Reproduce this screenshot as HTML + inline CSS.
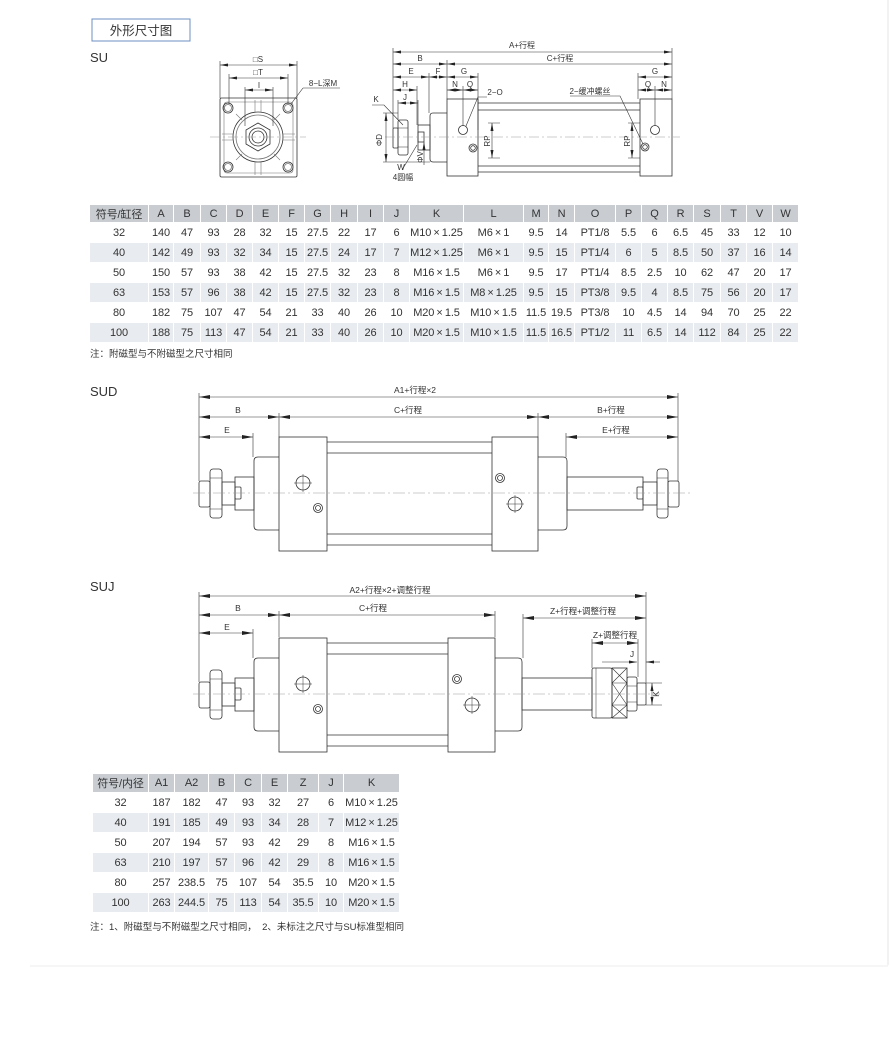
<!DOCTYPE html>
<html><head><meta charset="utf-8"><style>
body{margin:0;background:#fff;width:890px;height:1057px;position:relative;overflow:hidden;font-family:"Liberation Sans","Noto Sans CJK SC",sans-serif;color:#333}
svg{position:absolute;left:0;top:0}
table{position:absolute;border-collapse:collapse;table-layout:fixed;font-size:11px;color:#333;letter-spacing:-0.1px}
td{padding:0;text-align:center;border:1px solid #fff;white-space:nowrap;overflow:hidden}
tr.h td{background:#c9cdd2}
tr.g td{background:#e8ebef}
.note{position:absolute;font-size:9.5px;color:#333}
</style></head><body>
<svg width="890" height="1057" font-family="Liberation Sans, Noto Sans CJK SC, sans-serif">
<defs>
<marker id="a" viewBox="0 0 8 3" refX="8" refY="1.5" markerWidth="8" markerHeight="3" orient="auto-start-reverse" markerUnits="userSpaceOnUse"><path d="M0,0L8,1.5L0,3z" fill="#222"/></marker>
<marker id="b" viewBox="0 0 11 4" refX="11" refY="2" markerWidth="11" markerHeight="4" orient="auto-start-reverse" markerUnits="userSpaceOnUse"><path d="M0,0L11,2L0,4z" fill="#222"/></marker>
</defs>
<line x1="888" y1="0" x2="888" y2="965" stroke="#e6e6e6"/>
<line x1="30" y1="966" x2="888" y2="966" stroke="#eee"/>
<rect x="92" y="19" width="98" height="22" fill="none" stroke="#6d8fc4" stroke-width="1"/>
<text x="141" y="35" font-size="12.5" text-anchor="middle" fill="#333">外形尺寸图</text>
<text x="90" y="62" font-size="13" fill="#333">SU</text>
<text x="90" y="396" font-size="13" fill="#333">SUD</text>
<text x="90" y="591" font-size="13" fill="#333">SUJ</text>

<!-- SU front view -->
<g stroke="#333" fill="none" stroke-width="0.8">
<rect x="220" y="98" width="77" height="79" rx="1.5"/>
<rect x="224" y="102" width="69" height="71" rx="3" stroke="#777" stroke-width="0.6"/>
<circle cx="258" cy="137" r="25"/><circle cx="258" cy="137" r="22" stroke="#777"/>
<polygon points="258,123 270,130 270,144 258,151 246,144 246,130"/>
<circle cx="258" cy="137" r="9"/><circle cx="258" cy="137" r="6"/>
<circle cx="228" cy="108" r="5"/><circle cx="228" cy="108" r="3.5" stroke="#777"/>
<circle cx="288" cy="108" r="5"/><circle cx="288" cy="108" r="3.5" stroke="#777"/>
<circle cx="228" cy="167" r="5"/><circle cx="228" cy="167" r="3.5" stroke="#777"/>
<circle cx="288" cy="167" r="5"/><circle cx="288" cy="167" r="3.5" stroke="#777"/>
<path d="M236,114L242,120M280,114L274,120M236,160L242,154M280,160L274,154M255,100V112M261,100V112M255,162V175M261,162V175M222,134H233M222,140H233M283,134H295M283,140H295" stroke="#777" stroke-width="0.6"/>
</g>
<g stroke="#333" stroke-width="0.6" fill="none">
<line x1="220" y1="65" x2="297" y2="65" marker-start="url(#a)" marker-end="url(#a)"/>
<line x1="229" y1="78" x2="288" y2="78" marker-start="url(#a)" marker-end="url(#a)"/>
<line x1="245" y1="90" x2="273" y2="90" marker-start="url(#a)" marker-end="url(#a)"/>
<line x1="220" y1="61" x2="220" y2="98"/><line x1="297" y1="61" x2="297" y2="98"/>
<line x1="229" y1="74" x2="229" y2="104"/><line x1="288" y1="74" x2="288" y2="104"/>
<line x1="245" y1="87" x2="245" y2="126"/><line x1="273" y1="87" x2="273" y2="126"/>
<line x1="340" y1="88" x2="303" y2="88"/><line x1="303" y1="88" x2="291" y2="104"/>
</g>
<line x1="210" y1="137" x2="306" y2="137" stroke="#999" stroke-width="0.6" stroke-dasharray="10 3 2 3"/>
<g font-size="8" fill="#333" text-anchor="middle">
<text x="258" y="62">□S</text><text x="258" y="75">□T</text><text x="259" y="88">I</text>
<text x="323" y="86">8−L深M</text>
</g>

<!-- SU side view -->
<g stroke="#333" fill="none" stroke-width="0.8">
<rect x="447" y="99" width="31" height="77"/>
<rect x="640" y="99" width="32" height="77"/>
<path d="M478,103H640M478,110H640M478,166H640M478,172H640"/>
<path d="M447,113H433Q430,113 430,116V159Q430,162 433,162H447"/>
<rect x="418" y="125" width="12" height="25"/>
<rect x="418" y="132" width="6" height="10"/>
<rect x="398" y="120" width="10" height="35" rx="2"/>
<path d="M398,128H408M398,147H408" stroke-width="0.5"/>
<rect x="393" y="128" width="5" height="20" rx="1"/>
<circle cx="463" cy="130" r="4.5"/><circle cx="473" cy="148" r="4"/><circle cx="473" cy="148" r="2.3"/>
<circle cx="655" cy="130" r="4.5"/><circle cx="645" cy="147" r="4"/><circle cx="645" cy="147" r="2.3"/>
</g>
<line x1="385" y1="137" x2="680" y2="137" stroke="#999" stroke-width="0.6" stroke-dasharray="10 3 2 3"/>
<g stroke="#333" stroke-width="0.6" fill="none">
<line x1="393" y1="52" x2="672" y2="52" marker-start="url(#a)" marker-end="url(#a)"/>
<line x1="393" y1="64" x2="447" y2="64" marker-start="url(#a)" marker-end="url(#a)"/>
<line x1="447" y1="64" x2="672" y2="64" marker-start="url(#a)" marker-end="url(#a)"/>
<line x1="393" y1="77" x2="429" y2="77" marker-start="url(#a)" marker-end="url(#a)"/>
<line x1="429" y1="77" x2="447" y2="77" marker-start="url(#a)" marker-end="url(#a)"/>
<line x1="447" y1="77" x2="478" y2="77" marker-start="url(#a)" marker-end="url(#a)"/>
<line x1="638" y1="77" x2="672" y2="77" marker-start="url(#a)" marker-end="url(#a)"/>
<line x1="393" y1="90" x2="417" y2="90" marker-start="url(#a)" marker-end="url(#a)"/>
<line x1="447" y1="90" x2="463" y2="90" marker-start="url(#a)" marker-end="url(#a)"/>
<line x1="463" y1="90" x2="478" y2="90" marker-start="url(#a)" marker-end="url(#a)"/>
<line x1="638" y1="90" x2="655" y2="90" marker-start="url(#a)" marker-end="url(#a)"/>
<line x1="655" y1="90" x2="672" y2="90" marker-start="url(#a)" marker-end="url(#a)"/>
<line x1="398" y1="103" x2="418" y2="103" marker-start="url(#a)" marker-end="url(#a)"/>
<path d="M393,48V128M672,48V99M447,60V99M429,73V113M478,73V130M638,73V99M417,86V125M463,86V126M655,86V126M398,100V120M418,100V125"/>
<path d="M383,113H398M383,162H430"/>
<line x1="386" y1="113" x2="386" y2="162" marker-start="url(#a)" marker-end="url(#a)"/>
<line x1="424" y1="142" x2="424" y2="165" marker-start="url(#a)"/>
<path d="M372,105H384L403,125M402,170L417,145M487,97H478L466,126M570,96H620L643,144"/>
<line x1="492" y1="123" x2="492" y2="158" marker-start="url(#a)" marker-end="url(#a)"/>
<line x1="632" y1="123" x2="632" y2="158" marker-start="url(#a)" marker-end="url(#a)"/>
<path d="M488,123H500M488,158H500M628,123H640M628,158H640"/>
</g>
<g font-size="8" fill="#333" text-anchor="middle">
<text x="522" y="48">A+行程</text><text x="420" y="61">B</text><text x="560" y="61">C+行程</text>
<text x="411" y="74">E</text><text x="438" y="74">F</text><text x="464" y="74">G</text><text x="655" y="74">G</text>
<text x="405" y="87">H</text><text x="455" y="87">N</text><text x="470" y="87">Q</text><text x="648" y="87">Q</text><text x="664" y="87">N</text>
<text x="405" y="100">J</text><text x="376" y="102">K</text>
<text x="495" y="95">2−O</text><text x="590" y="94">2−缓冲螺丝</text>
<text x="401" y="170">W</text><text x="403" y="180">4圆幅</text>
<text transform="translate(382,140) rotate(-90)">ΦD</text>
<text transform="translate(423,157) rotate(-90)">ΦV</text>
<text transform="translate(490,141) rotate(-90)">RP</text>
<text transform="translate(630,141) rotate(-90)">RP</text>
</g>

<!-- SUD -->
<g id="L" stroke="#333" fill="none" stroke-width="0.8">
<rect x="279" y="437" width="48" height="114"/>
<path d="M279,457H258Q254,457 254,461V526Q254,530 258,530H279"/>
<rect x="235" y="477" width="19" height="33"/>
<rect x="222" y="482" width="13" height="23"/>
<rect x="235" y="487" width="6" height="12" rx="1"/>
<rect x="210" y="469" width="12" height="49" rx="3"/>
<path d="M210,478H222M210,509H222" stroke-width="0.5"/>
<rect x="199" y="481" width="11" height="26" rx="2"/>
<circle cx="303" cy="483" r="7"/><path d="M294,483H312M303,474V492" stroke-width="0.5"/>
<circle cx="318" cy="508" r="4.5"/><circle cx="318" cy="508" r="2.5"/>
</g>
<g stroke="#333" fill="none" stroke-width="0.8">
<path d="M327,442H492M327,453H492M327,534H492M327,545H492"/>
<rect x="492" y="437" width="46" height="114"/>
<path d="M538,457H563Q567,457 567,461V526Q567,530 563,530H538"/>
<rect x="567" y="477" width="76" height="33"/>
<rect x="643" y="482" width="14" height="23"/>
<rect x="637" y="487" width="6" height="12" rx="1"/>
<rect x="657" y="469" width="11" height="49" rx="3"/>
<path d="M657,478H668M657,509H668" stroke-width="0.5"/>
<rect x="668" y="481" width="11" height="26" rx="2"/>
<circle cx="515" cy="504" r="7"/><path d="M506,504H524M515,495V513" stroke-width="0.5"/>
<circle cx="500" cy="478" r="4.5"/><circle cx="500" cy="478" r="2.5"/>
</g>
<line x1="193" y1="493" x2="690" y2="493" stroke="#999" stroke-width="0.6" stroke-dasharray="12 3 2 3"/>
<g stroke="#333" stroke-width="0.6" fill="none">
<line x1="199" y1="397" x2="678" y2="397" marker-start="url(#b)" marker-end="url(#b)"/>
<line x1="199" y1="417" x2="279" y2="417" marker-start="url(#b)" marker-end="url(#b)"/>
<line x1="279" y1="417" x2="538" y2="417" marker-start="url(#b)" marker-end="url(#b)"/>
<line x1="538" y1="417" x2="678" y2="417" marker-start="url(#b)" marker-end="url(#b)"/>
<line x1="199" y1="437" x2="253" y2="437" marker-start="url(#b)" marker-end="url(#b)"/>
<line x1="566" y1="437" x2="678" y2="437" marker-start="url(#b)" marker-end="url(#b)"/>
<path d="M199,393V481M678,393V481M279,413V437M538,413V437M253,433V457M566,433V457"/>
</g>
<g font-size="8.5" fill="#333" text-anchor="middle">
<text x="415" y="393">A1+行程×2</text><text x="238" y="413">B</text><text x="408" y="413">C+行程</text>
<text x="611" y="413">B+行程</text><text x="227" y="433">E</text><text x="616" y="433">E+行程</text>
</g>

<!-- SUJ -->
<use href="#L" x="0" y="201"/>
<g stroke="#333" fill="none" stroke-width="0.8">
<path d="M327,643H448M327,654H448M327,735H448M327,746H448"/>
<rect x="448" y="638" width="47" height="114"/>
<path d="M495,658H518Q522,658 522,662V727Q522,731 518,731H495"/>
<rect x="522" y="678" width="70" height="32"/>
<rect x="592" y="668" width="20" height="50" rx="2"/>
<path d="M596,668V718" stroke-width="0.5"/>
<rect x="612" y="668" width="15" height="50"/>
<path d="M612,683H627M612,705H627M612,668L627,683M627,668L612,683M612,683L627,705M627,683L612,705M612,705L627,718M627,705L612,718" stroke-width="0.6"/>
<rect x="627" y="677" width="10" height="34" rx="2"/>
<path d="M627,686H637M627,702H637" stroke-width="0.5"/>
<rect x="637" y="683" width="9" height="22" rx="1"/>
<circle cx="472" cy="705" r="7"/><path d="M463,705H481M472,696V714" stroke-width="0.5"/>
<circle cx="457" cy="679" r="4.5"/><circle cx="457" cy="679" r="2.5"/>
</g>
<line x1="193" y1="694" x2="660" y2="694" stroke="#999" stroke-width="0.6" stroke-dasharray="12 3 2 3"/>
<g stroke="#333" stroke-width="0.6" fill="none">
<line x1="199" y1="596" x2="646" y2="596" marker-start="url(#b)" marker-end="url(#b)"/>
<line x1="199" y1="615" x2="279" y2="615" marker-start="url(#b)" marker-end="url(#b)"/>
<line x1="279" y1="615" x2="495" y2="615" marker-start="url(#b)" marker-end="url(#b)"/>
<line x1="523" y1="618" x2="646" y2="618" marker-start="url(#b)" marker-end="url(#b)"/>
<line x1="199" y1="633" x2="253" y2="633" marker-start="url(#b)" marker-end="url(#b)"/>
<line x1="592" y1="643" x2="638" y2="643" marker-start="url(#b)" marker-end="url(#b)"/>
<line x1="602" y1="662" x2="637" y2="662" marker-end="url(#a)"/>
<line x1="660" y1="662" x2="646" y2="662" marker-end="url(#a)"/>
<line x1="652" y1="683" x2="652" y2="705" marker-start="url(#a)" marker-end="url(#a)"/>
<path d="M199,592V682M646,592V683M279,611V637M495,611V637M523,614V658M253,629V658M592,639V668M638,639V677M646,683H662M646,705H662"/>
</g>
<g font-size="8.5" fill="#333" text-anchor="middle">
<text x="390" y="593">A2+行程×2+调整行程</text><text x="238" y="611">B</text><text x="373" y="611">C+行程</text>
<text x="583" y="614">Z+行程+调整行程</text><text x="227" y="630">E</text><text x="615" y="638">Z+调整行程</text>
<text x="632" y="657">J</text>
<text transform="translate(659,694) rotate(-90)">K</text>
</g>
</svg>

<table style="left:89px;top:204px;width:709px">
<colgroup><col style="width:59px"><col style="width:25px"><col style="width:27px"><col style="width:26px"><col style="width:26px"><col style="width:26px"><col style="width:26px"><col style="width:26px"><col style="width:27px"><col style="width:26px"><col style="width:26px"><col style="width:54px"><col style="width:60px"><col style="width:25px"><col style="width:26px"><col style="width:41px"><col style="width:26px"><col style="width:26px"><col style="width:26px"><col style="width:27px"><col style="width:26px"><col style="width:26px"><col style="width:26px"></colgroup>
<tr class="h" style="height:18px"><td>符号/缸径</td><td>A</td><td>B</td><td>C</td><td>D</td><td>E</td><td>F</td><td>G</td><td>H</td><td>I</td><td>J</td><td>K</td><td>L</td><td>M</td><td>N</td><td>O</td><td>P</td><td>Q</td><td>R</td><td>S</td><td>T</td><td>V</td><td>W</td></tr>
<tr style="height:20px"><td>32</td><td>140</td><td>47</td><td>93</td><td>28</td><td>32</td><td>15</td><td>27.5</td><td>22</td><td>17</td><td>6</td><td>M10&#8201;×&#8201;1.25</td><td>M6&#8201;×&#8201;1</td><td>9.5</td><td>14</td><td>PT1/8</td><td>5.5</td><td>6</td><td>6.5</td><td>45</td><td>33</td><td>12</td><td>10</td></tr>
<tr class="g" style="height:20px"><td>40</td><td>142</td><td>49</td><td>93</td><td>32</td><td>34</td><td>15</td><td>27.5</td><td>24</td><td>17</td><td>7</td><td>M12&#8201;×&#8201;1.25</td><td>M6&#8201;×&#8201;1</td><td>9.5</td><td>15</td><td>PT1/4</td><td>6</td><td>5</td><td>8.5</td><td>50</td><td>37</td><td>16</td><td>14</td></tr>
<tr style="height:20px"><td>50</td><td>150</td><td>57</td><td>93</td><td>38</td><td>42</td><td>15</td><td>27.5</td><td>32</td><td>23</td><td>8</td><td>M16&#8201;×&#8201;1.5</td><td>M6&#8201;×&#8201;1</td><td>9.5</td><td>17</td><td>PT1/4</td><td>8.5</td><td>2.5</td><td>10</td><td>62</td><td>47</td><td>20</td><td>17</td></tr>
<tr class="g" style="height:20px"><td>63</td><td>153</td><td>57</td><td>96</td><td>38</td><td>42</td><td>15</td><td>27.5</td><td>32</td><td>23</td><td>8</td><td>M16&#8201;×&#8201;1.5</td><td>M8&#8201;×&#8201;1.25</td><td>9.5</td><td>15</td><td>PT3/8</td><td>9.5</td><td>4</td><td>8.5</td><td>75</td><td>56</td><td>20</td><td>17</td></tr>
<tr style="height:20px"><td>80</td><td>182</td><td>75</td><td>107</td><td>47</td><td>54</td><td>21</td><td>33</td><td>40</td><td>26</td><td>10</td><td>M20&#8201;×&#8201;1.5</td><td>M10&#8201;×&#8201;1.5</td><td>11.5</td><td>19.5</td><td>PT3/8</td><td>10</td><td>4.5</td><td>14</td><td>94</td><td>70</td><td>25</td><td>22</td></tr>
<tr class="g" style="height:20px"><td>100</td><td>188</td><td>75</td><td>113</td><td>47</td><td>54</td><td>21</td><td>33</td><td>40</td><td>26</td><td>10</td><td>M20&#8201;×&#8201;1.5</td><td>M10&#8201;×&#8201;1.5</td><td>11.5</td><td>16.5</td><td>PT1/2</td><td>11</td><td>6.5</td><td>14</td><td>112</td><td>84</td><td>25</td><td>22</td></tr>
</table>
<div class="note" style="left:90px;top:346px">注：附磁型与不附磁型之尺寸相同</div>

<table style="left:92px;top:773px;width:307px">
<colgroup><col style="width:56px"><col style="width:26px"><col style="width:34px"><col style="width:26px"><col style="width:27px"><col style="width:26px"><col style="width:31px"><col style="width:25px"><col style="width:56px"></colgroup>
<tr class="h" style="height:19px"><td>符号/内径</td><td>A1</td><td>A2</td><td>B</td><td>C</td><td>E</td><td>Z</td><td>J</td><td>K</td></tr>
<tr style="height:20px"><td>32</td><td>187</td><td>182</td><td>47</td><td>93</td><td>32</td><td>27</td><td>6</td><td>M10&#8201;×&#8201;1.25</td></tr>
<tr class="g" style="height:20px"><td>40</td><td>191</td><td>185</td><td>49</td><td>93</td><td>34</td><td>28</td><td>7</td><td>M12&#8201;×&#8201;1.25</td></tr>
<tr style="height:20px"><td>50</td><td>207</td><td>194</td><td>57</td><td>93</td><td>42</td><td>29</td><td>8</td><td>M16&#8201;×&#8201;1.5</td></tr>
<tr class="g" style="height:20px"><td>63</td><td>210</td><td>197</td><td>57</td><td>96</td><td>42</td><td>29</td><td>8</td><td>M16&#8201;×&#8201;1.5</td></tr>
<tr style="height:20px"><td>80</td><td>257</td><td>238.5</td><td>75</td><td>107</td><td>54</td><td>35.5</td><td>10</td><td>M20&#8201;×&#8201;1.5</td></tr>
<tr class="g" style="height:20px"><td>100</td><td>263</td><td>244.5</td><td>75</td><td>113</td><td>54</td><td>35.5</td><td>10</td><td>M20&#8201;×&#8201;1.5</td></tr>
</table>
<div class="note" style="left:90px;top:919px">注：1、附磁型与不附磁型之尺寸相同，&nbsp;&nbsp;2、未标注之尺寸与SU标准型相同</div>
</body></html>
